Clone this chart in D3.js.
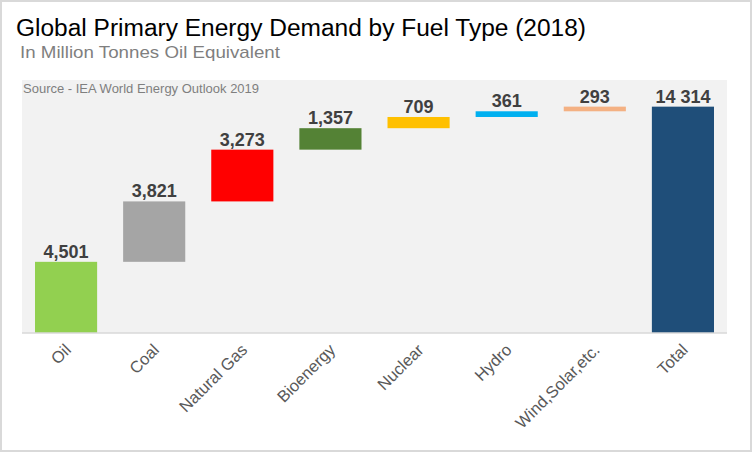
<!DOCTYPE html>
<html><head><meta charset="utf-8">
<script src="https://cdn.jsdelivr.net/npm/d3@7"></script>
<style>body{margin:0;background:#fff;}svg{display:block;font-family:"Liberation Sans",Arial,sans-serif;}</style>
</head><body>
<svg id="chart" width="752" height="452"></svg>
<script>
const categories = ["Oil","Coal","Natural Gas","Bioenergy","Nuclear","Hydro","Wind,Solar,etc.","Total"];
const values = [4501,3821,3273,1357,709,361,293,14314];
const valueLabels = ["4,501","3,821","3,273","1,357","709","361","293","14 314"];
const colors = ["#92d050","#a5a5a5","#ff0000","#548235","#ffc000","#00b0f0","#f4b183","#1f4e79"];
const totalIndex = 7;

const svg = d3.select("#chart");
const W = 752, H = 452;
const plot = {x0:22, x1:727, y0:80, y1:333};

svg.append("rect").attr("x",1).attr("y",1).attr("width",W-2).attr("height",H-2)
  .attr("fill","#fff").attr("stroke","#d9d9d9").attr("stroke-width",2);

svg.append("rect").attr("x",plot.x0).attr("y",plot.y0)
  .attr("width",plot.x1-plot.x0).attr("height",plot.y1-plot.y0).attr("fill","#f2f2f2");

const x = d3.scaleBand().domain(categories).range([plot.x0,plot.x1])
  .paddingInner(0.295).paddingOuter(0.1475);
const y = d3.scaleLinear().domain([0,16000]).range([plot.y1,plot.y0]);

// waterfall bases
let cum = 0;
const bars = categories.map((c,i)=>{
  let lo, hi;
  if (i===totalIndex){ lo=0; hi=values[i]; }
  else { lo=cum; hi=cum+values[i]; cum=hi; }
  return {c, lo, hi, v:values[i], label:valueLabels[i], color:colors[i]};
});

svg.append("g").selectAll("rect").data(bars).join("rect")
  .attr("x",d=>x(d.c)).attr("width",x.bandwidth())
  .attr("y",d=>y(d.hi)).attr("height",d=>y(d.lo)-y(d.hi))
  .attr("fill",d=>d.color);

svg.append("g").selectAll("text").data(bars).join("text")
  .attr("x",d=>x(d.c)+x.bandwidth()/2).attr("y",d=>y(d.hi)-4)
  .attr("text-anchor","middle").attr("font-weight","bold").attr("font-size",18)
  .attr("fill","#404040").text(d=>d.label);

// axis
const axis = d3.axisBottom(x).tickSize(0).tickPadding(0);
const gx = svg.append("g").attr("transform",`translate(0,${plot.y1})`).call(axis);
gx.select(".domain").attr("stroke","#d9d9d9").attr("stroke-width",1.5)
  .attr("d",`M${plot.x0},0H${plot.x1}`);
gx.selectAll(".tick text")
  .attr("font-family","Liberation Sans, Arial, sans-serif")
  .attr("font-size",16.5).attr("fill","#595959")
  .attr("text-anchor","end").attr("dy",0).attr("y",0)
  .attr("transform","translate(6,18) rotate(-45)");

svg.append("text").attr("x",16).attr("y",36).attr("font-size",23.5).attr("fill","#000")
  .attr("textLength",570).attr("lengthAdjust","spacingAndGlyphs")
  .text("Global Primary Energy Demand by Fuel Type (2018)");
svg.append("text").attr("x",20).attr("y",58).attr("font-size",17).attr("fill","#7f7f7f")
  .attr("textLength",260).attr("lengthAdjust","spacingAndGlyphs")
  .text("In Million Tonnes Oil Equivalent");
svg.append("text").attr("x",23).attr("y",93).attr("font-size",13).attr("fill","#7f7f7f")
  .text("Source - IEA World Energy Outlook 2019");
</script>
</body></html>
